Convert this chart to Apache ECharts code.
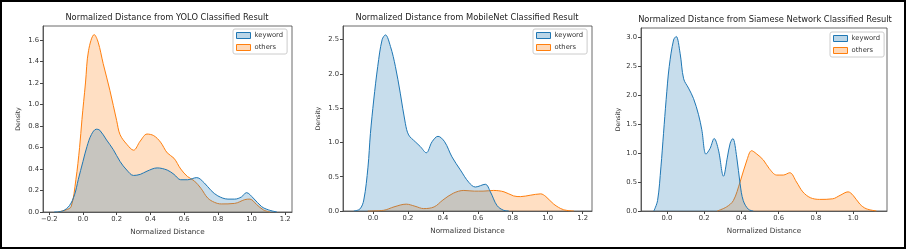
<!DOCTYPE html>
<html><head><meta charset="utf-8">
<script src="https://cdn.jsdelivr.net/npm/echarts@6/dist/echarts.min.js"></script>
<style>html,body{margin:0;padding:0;background:#fff}#c{width:907px;height:250px}</style>
</head><body><div id="c"></div>
<script>
// ---- data ----
var titles = ['Normalized Distance from YOLO Classified Result','Normalized Distance from MobileNet Classified Result','Normalized Distance from Siamese Network Classified Result'];
var seriesNames = ['keyword','others'];
var xTicks1 = [-0.2,0,0.2,0.4,0.6,0.8,1.0,1.2];
var xTicks2 = [0,0.2,0.4,0.6,0.8,1.0,1.2];
var xTicks3 = [0,0.2,0.4,0.6,0.8,1.0];
var yTicks1 = [0,0.2,0.4,0.6,0.8,1.0,1.2,1.4,1.6];
var yTicks2 = [0,0.5,1.0,1.5,2.0,2.5];
var yTicks3 = [0,0.5,1.0,1.5,2.0,2.5,3.0];

var yoloKeywordX = [-0.17,-0.12,-0.08,-0.05,-0.028,0,0.024,0.05,0.079,0.1,0.14,0.18,0.22,0.26,0.3,0.34,0.38,0.44,0.5,0.54,0.58,0.62,0.675,0.72,0.76,0.8,0.86,0.9,0.94,0.97,1.01,1.06,1.1,1.15];
var yoloKeywordY = [0,0.01,0.06,0.16,0.3,0.47,0.61,0.72,0.77,0.76,0.67,0.58,0.47,0.39,0.34,0.35,0.38,0.41,0.39,0.35,0.3,0.3,0.32,0.27,0.2,0.15,0.12,0.12,0.14,0.18,0.13,0.05,0.02,0];
var yoloOthersX = [-0.15,-0.1,-0.07,-0.042,-0.02,-0.006,0.015,0.033,0.067,0.09,0.12,0.16,0.2,0.22,0.26,0.3,0.34,0.38,0.42,0.46,0.5,0.54,0.58,0.62,0.66,0.7,0.74,0.78,0.82,0.9,0.96,0.99,1.03,1.07,1.11];
var yoloOthersY = [0,0.02,0.05,0.3,0.6,0.86,1.2,1.5,1.65,1.58,1.38,1.13,0.85,0.72,0.63,0.575,0.66,0.725,0.71,0.65,0.55,0.5,0.4,0.33,0.29,0.22,0.13,0.09,0.075,0.08,0.115,0.12,0.07,0.02,0];

var mobKeywordX = [-0.11,-0.075,-0.053,-0.029,-0.015,0.004,0.027,0.052,0.071,0.1,0.128,0.156,0.185,0.204,0.242,0.271,0.305,0.338,0.372,0.41,0.452,0.5,0.548,0.586,0.643,0.672,0.71,0.748,0.777];
var mobKeywordY = [0,0.03,0.16,0.64,1.13,1.62,2.11,2.5,2.57,2.4,2.11,1.72,1.28,1.11,1.01,0.94,0.85,1.01,1.09,1.01,0.79,0.6,0.42,0.35,0.39,0.28,0.08,0.01,0];
var mobOthersX = [-0.03,0.06,0.12,0.19,0.24,0.29,0.35,0.4,0.46,0.52,0.58,0.63,0.69,0.75,0.805,0.845,0.9,0.96,0.99,1.035,1.09,1.15];
var mobOthersY = [0,0.01,0.06,0.1,0.07,0.035,0.06,0.16,0.26,0.3,0.29,0.29,0.3,0.28,0.22,0.21,0.23,0.25,0.21,0.1,0.02,0];

var siamKeywordX = [-0.07,-0.05,-0.032,-0.018,-0.004,0.0125,0.036,0.05,0.071,0.09,0.116,0.143,0.17,0.1875,0.21,0.232,0.254,0.277,0.304,0.325,0.34,0.354,0.375,0.393,0.41,0.4375,0.464];
var siamKeywordY = [0,0.18,0.76,1.34,1.92,2.49,2.95,3.01,2.72,2.28,2.12,1.94,1.66,1.4,0.98,1.08,1.25,1.05,0.6,0.93,1.17,1.25,0.93,0.47,0.18,0.03,0];
var siamOthersX = [0.27,0.32,0.357,0.393,0.43,0.455,0.48,0.518,0.55,0.59,0.625,0.66,0.696,0.73,0.77,0.82,0.89,0.93,0.973,1.0,1.036,1.07,1.125];
var siamOthersY = [0,0.07,0.18,0.5,0.88,1.04,0.99,0.88,0.73,0.62,0.62,0.66,0.5,0.33,0.23,0.2,0.21,0.27,0.33,0.27,0.12,0.04,0];

// ---- chart ----
function pairs(xs, ys){ return xs.map(function(x,i){return [x, ys[i]];}); }
var blue = '#1f77b4', orange = '#ff7f0e';
var FONT = 'DejaVu Sans';
var panels = [
  {grid:{left:43,top:26,width:249,height:186}, xmin:-0.237, xmax:1.24, ymax:1.73, xt:xTicks1, yt:yTicks1, k:[yoloKeywordX,yoloKeywordY], o:[yoloOthersX,yoloOthersY], title:{x:167,y:14}, legend:{x:233,y:29}},
  {grid:{left:343,top:26,width:249,height:185}, xmin:-0.172, xmax:1.254, ymax:2.70, xt:xTicks2, yt:yTicks2, k:[mobKeywordX,mobKeywordY], o:[mobOthersX,mobOthersY], title:{x:467,y:14}, legend:{x:533,y:29}},
  {grid:{left:641,top:28,width:246,height:183}, xmin:-0.139, xmax:1.182, ymax:3.156, xt:xTicks3, yt:yTicks3, k:[siamKeywordX,siamKeywordY], o:[siamOthersX,siamOthersY], title:{x:765,y:16}, legend:{x:830,y:32}}
];
function fmt(v){ var s = Math.abs(v).toFixed(1); return (v < -1e-9 ? '\u2212' : '') + s; }
var option = {animation:false, grid:[], xAxis:[], yAxis:[], series:[], title:[], legend:[],
  graphic:[{type:'rect', shape:{x:1,y:1,width:904,height:247}, style:{fill:'none', stroke:'#000', lineWidth:2}, z:100}]};
panels.forEach(function(p, i){
  option.grid.push({left:p.grid.left, top:p.grid.top, width:p.grid.width, height:p.grid.height, show:true, borderColor:'#444', borderWidth:0.8, backgroundColor:'transparent', containLabel:false});
  option.xAxis.push({type:'value', gridIndex:i, min:p.xmin, max:p.xmax, splitLine:{show:false},
    axisLine:{show:true, onZero:false, lineStyle:{color:'#444', width:0.8}},
    axisTick:{show:true, length:3, lineStyle:{color:'#444'}, customValues:p.xt},
    axisLabel:{customValues:p.xt, formatter:fmt, fontFamily:FONT, fontSize:6.8, color:'#333', margin:4},
    name:'Normalized Distance', nameLocation:'middle', nameGap:17, nameTextStyle:{fontFamily:FONT, fontSize:7.2, color:'#333'}});
  option.yAxis.push({type:'value', gridIndex:i, min:0, max:p.ymax, splitLine:{show:false},
    axisLine:{show:true, onZero:false, lineStyle:{color:'#444', width:0.8}},
    axisTick:{show:true, length:3, lineStyle:{color:'#444'}, customValues:p.yt},
    axisLabel:{customValues:p.yt, formatter:fmt, fontFamily:FONT, fontSize:6.8, color:'#333', margin:4},
    name:'Density', nameLocation:'middle', nameGap:(i===2?20:22), nameTextStyle:{fontFamily:FONT, fontSize:6.2, color:'#333'}});
  [[p.k, blue, 0], [p.o, orange, 1]].forEach(function(d){
    option.series.push({type:'line', name:seriesNames[d[2]], xAxisIndex:i, yAxisIndex:i, data:pairs(d[0][0], d[0][1]),
      smooth:0.35, showSymbol:false, symbol:'none', lineStyle:{color:d[1], width:1}, itemStyle:{color:d[1]},
      areaStyle:{color:d[1], opacity:0.25}, z:d[2]===0?3:2});
  });
  option.title.push({text:titles[i], left:p.title.x, top:p.title.y, textAlign:'center', padding:0,
    textStyle:{fontFamily:FONT, fontSize:8.3, fontWeight:'normal', color:'#222'}});
  option.legend.push({left:p.legend.x, top:p.legend.y, orient:'vertical', icon:'rect', itemWidth:14, itemHeight:6, itemGap:5,
    padding:[3,4,3,3], backgroundColor:'#fff', borderColor:'#ccc', borderWidth:1, borderRadius:2,
    textStyle:{fontFamily:FONT, fontSize:6.8, color:'#333', padding:[0,0,0,-1]},
    data:[{name:'keyword', itemStyle:{color:'rgba(31,119,180,0.3)', borderColor:blue, borderWidth:1}},
          {name:'others', itemStyle:{color:'rgba(255,127,14,0.3)', borderColor:orange, borderWidth:1}}],
    selectedMode:false});
});
var chart = echarts.init(document.getElementById('c'), null, {renderer:'canvas'});
chart.setOption(option);
</script></body></html>
